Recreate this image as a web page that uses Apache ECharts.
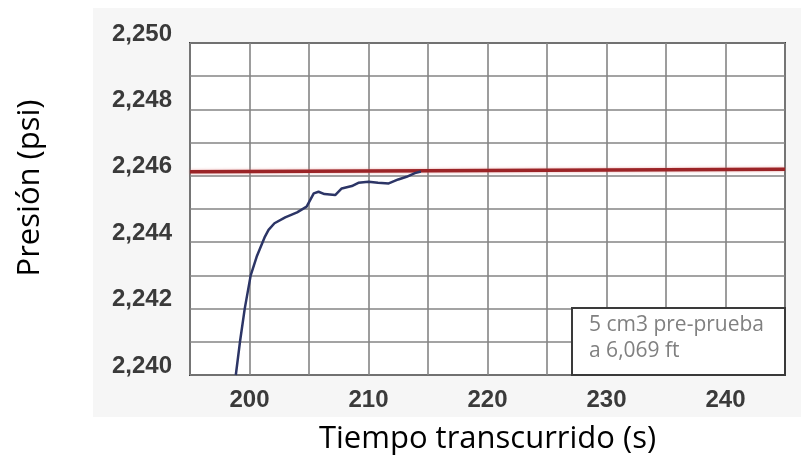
<!DOCTYPE html>
<html>
<head>
<meta charset="utf-8">
<script src="https://cdn.jsdelivr.net/npm/echarts@6/dist/echarts.min.js"></script>
<style>
html,body{margin:0;padding:0;background:#fff;}
#chart{width:801px;height:463px;}
</style>
</head>
<body>
<div id="chart"></div>
<script>
// Data
var timeValues = [198.85, 199.2, 199.6, 200.1, 200.6, 201.3, 201.6, 202.1, 203.0, 204.0, 204.8, 205.4, 205.8, 206.3, 207.2, 207.75, 208.6, 209.15, 210.0, 210.8, 211.7, 212.5, 213.2, 213.9, 214.4];
var pressureValues = [2240.0, 2241.0, 2242.0, 2243.0, 2243.56, 2244.17, 2244.37, 2244.57, 2244.75, 2244.9, 2245.07, 2245.47, 2245.52, 2245.45, 2245.42, 2245.62, 2245.69, 2245.79, 2245.82, 2245.79, 2245.77, 2245.89, 2245.97, 2246.08, 2246.13];
var refTime = [195, 245];
var refPressure = [2246.12, 2246.2];
var xTickLabels = [200, 210, 220, 230, 240];
var yTickLabels = [2240, 2242, 2244, 2246, 2248, 2250];
var annotationLines = ['5 cm3 pre-prueba', 'a 6,069 ft'];
var xTitle = 'Tiempo transcurrido (s)';
var yTitle = 'Presión (psi)';

function pairs(xs, ys) { return xs.map(function (x, i) { return [x, ys[i]]; }); }
function fmtThousands(v) { var s = String(Math.round(v)); return s.slice(0, s.length - 3) + ',' + s.slice(s.length - 3); }

var chart = echarts.init(document.getElementById('chart'));
chart.setOption({
  animation: false,
  backgroundColor: '#ffffff',
  grid: {
    left: 190, top: 43, right: 16, bottom: 88,
    show: true, backgroundColor: '#ffffff', borderColor: '#3a3a3a', borderWidth: 2
  },
  graphic: [
    { type: 'rect', z: -10, silent: true, shape: { x: 93, y: 8, width: 708, height: 409 }, style: { fill: '#f6f6f6' } },
    { type: 'rect', z: 100, shape: { x: 572, y: 308, width: 213, height: 67 }, style: { fill: '#ffffff', stroke: '#3a3a3a', lineWidth: 2 } },
    { type: 'text', z: 101, left: 589, top: 312, style: { text: annotationLines.join('\n'), fill: '#808080', font: '21px "Open Sans"', lineHeight: 26 } },
    { type: 'text', z: 101, x: 30, y: 188, rotation: Math.PI / 2, style: { text: yTitle, fill: '#000', font: '31px "Open Sans"', align: 'center', verticalAlign: 'middle' } }
  ],
  xAxis: {
    type: 'value', min: 195, max: 245, interval: 5,
    name: xTitle, nameLocation: 'middle', nameGap: 49,
    nameTextStyle: { fontFamily: 'Open Sans', fontSize: 31, color: '#000' },
    axisLine: { show: false }, axisTick: { show: false },
    axisLabel: {
      margin: 13, color: '#3a3a3a', fontFamily: 'Liberation Sans', fontWeight: 'bold', fontSize: 24,
      formatter: function (v) { return xTickLabels.indexOf(v) >= 0 ? String(v) : ''; }
    },
    splitLine: { show: true, lineStyle: { color: '#858585', width: 1.6 } }
  },
  yAxis: {
    type: 'value', min: 2240, max: 2250, interval: 1,
    axisLine: { show: false }, axisTick: { show: false },
    axisLabel: {
      margin: 18, color: '#3a3a3a', fontFamily: 'Liberation Sans', fontWeight: 'bold', fontSize: 24,
      verticalAlign: 'bottom', lineHeight: 18,
      formatter: function (v) { return yTickLabels.indexOf(Math.round(v)) >= 0 ? fmtThousands(v) : ''; }
    },
    splitLine: { show: true, lineStyle: { color: '#858585', width: 1.6 } }
  },
  series: [
    {
      type: 'line', data: pairs(refTime, refPressure), symbol: 'none', z: 3,
      lineStyle: { color: '#9b2427', width: 3.5, shadowColor: 'rgba(220,120,120,0.6)', shadowBlur: 3 }
    },
    {
      type: 'line', data: pairs(timeValues, pressureValues), symbol: 'none', z: 4,
      lineStyle: { color: '#2c3566', width: 2.5 }
    }
  ]
});
</script>
</body>
</html>
